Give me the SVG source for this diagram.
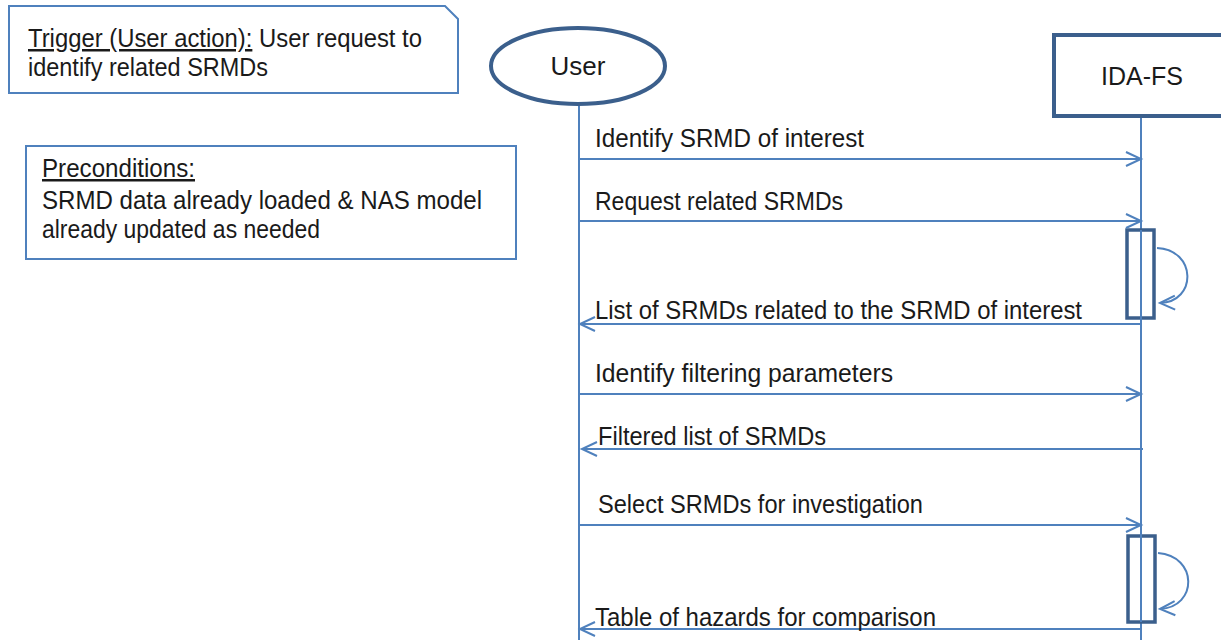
<svg xmlns="http://www.w3.org/2000/svg" width="1221" height="642" viewBox="0 0 1221 642">
  <style>
    .txt { font-family: "Liberation Sans", Arial, sans-serif; font-size: 25px; fill: #1a1a1a; }
    .note { fill: #ffffff; stroke: #4f81bd; stroke-width: 2; }
    .actor { fill: #ffffff; stroke: #3b5f8c; stroke-width: 4; }
    .act { fill: #ffffff; stroke: #3b5f8c; stroke-width: 3.5; }
    .life { stroke: #4f81bd; stroke-width: 2; fill: none; }
    .msg { stroke: #4f81bd; stroke-width: 2; fill: none; marker-end: url(#arr); }
    .u { text-decoration: underline; }
  </style>
  <defs>
    <marker id="arr" markerUnits="userSpaceOnUse" markerWidth="18" markerHeight="18" refX="15" refY="7" orient="auto" overflow="visible">
      <path d="M0,0 L15,7 L0,14" fill="none" stroke="#4f81bd" stroke-width="2"/>
    </marker>
  </defs>
  <rect width="1221" height="642" fill="#ffffff"/>

  <g id="trigger">
    <polygon class="note" points="9,6 445,6 458,19 458,93 9,93"/>
    <text class="txt" x="28" y="47" textLength="394" lengthAdjust="spacingAndGlyphs"><tspan class="u">Trigger (User action):</tspan> User request to</text>
    <text class="txt" x="28" y="76" textLength="240" lengthAdjust="spacingAndGlyphs">identify related SRMDs</text>
  </g>

  <g id="preconditions">
    <rect class="note" x="26" y="146" width="490" height="113"/>
    <text class="txt" x="42" y="177" textLength="153" lengthAdjust="spacingAndGlyphs"><tspan class="u">Preconditions:</tspan></text>
    <text class="txt" x="42" y="209" textLength="440" lengthAdjust="spacingAndGlyphs">SRMD data already loaded &amp; NAS model</text>
    <text class="txt" x="42" y="238" textLength="278" lengthAdjust="spacingAndGlyphs">already updated as needed</text>
  </g>

  <g id="user">
    <line class="life" x1="579" y1="104" x2="579" y2="640"/>
    <ellipse class="actor" cx="578" cy="66" rx="87" ry="38"/>
    <text class="txt" x="578" y="75" text-anchor="middle" style="font-size:26px">User</text>
  </g>

  <g id="ida-fs">
    <line class="life" x1="1141" y1="116" x2="1141" y2="640"/>
    <rect class="actor" x="1054" y="35" width="200" height="81"/>
    <text class="txt" x="1142" y="85" text-anchor="middle" style="font-size:25px">IDA-FS</text>
    <rect class="act" x="1127" y="230" width="27" height="88"/>
    <rect class="act" x="1128" y="536" width="27" height="86"/>
    <line class="life" x1="1141" y1="230" x2="1141" y2="622"/>
  </g>

  <g id="connectors">
    <line class="msg" x1="579" y1="159" x2="1141" y2="159"/>
    <line class="msg" x1="579" y1="221" x2="1141" y2="221"/>
    <path class="msg" d="M1157,248 C1197,250 1197,302 1160,303"/>
    <line class="msg" x1="1141" y1="324" x2="580" y2="324"/>
    <line class="msg" x1="579" y1="394" x2="1141" y2="394"/>
    <line class="msg" x1="1143" y1="449" x2="582" y2="449"/>
    <line class="msg" x1="579" y1="525" x2="1141" y2="525"/>
    <path class="msg" d="M1158,553 C1198,556 1198,607 1160,609"/>
    <line class="msg" x1="1141" y1="629" x2="580" y2="629"/>
  </g>

  <g id="labels">
    <text class="txt" x="595" y="147" textLength="269" lengthAdjust="spacingAndGlyphs">Identify SRMD of interest</text>
    <text class="txt" x="595" y="210" textLength="248" lengthAdjust="spacingAndGlyphs">Request related SRMDs</text>
    <text class="txt" x="595" y="319" textLength="487" lengthAdjust="spacingAndGlyphs">List of SRMDs related to the SRMD of interest</text>
    <text class="txt" x="595" y="382" textLength="298" lengthAdjust="spacingAndGlyphs">Identify filtering parameters</text>
    <text class="txt" x="598" y="445" textLength="228" lengthAdjust="spacingAndGlyphs">Filtered list of SRMDs</text>
    <text class="txt" x="598" y="513" textLength="325" lengthAdjust="spacingAndGlyphs">Select SRMDs for investigation</text>
    <text class="txt" x="595" y="626" textLength="341" lengthAdjust="spacingAndGlyphs">Table of hazards for comparison</text>
  </g>
</svg>
